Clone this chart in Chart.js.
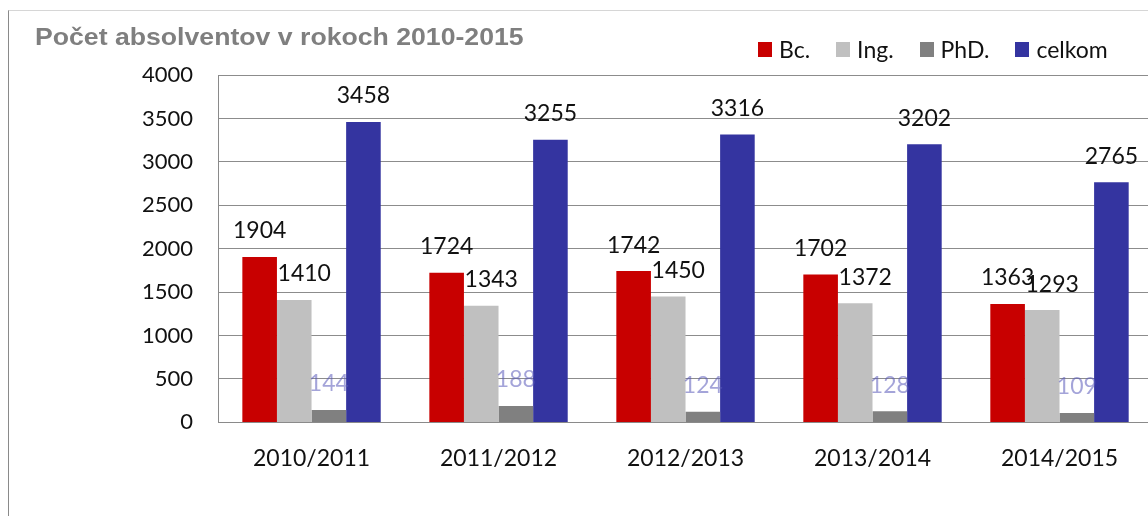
<!DOCTYPE html>
<html>
<head>
<meta charset="utf-8">
<script src="https://cdn.jsdelivr.net/npm/chart.js@4/dist/chart.umd.min.js"></script>
<style>
  html, body { margin:0; padding:0; width:1148px; height:516px; overflow:hidden; background:#fff; }
  #frame { position:absolute; left:8px; top:10px; width:1200px; height:520px;
           border-top:1px solid #d6d6d6; border-left:1px solid #8a8a8a; }
  #wrap { position:absolute; left:0; top:0; width:1160px; height:516px; }
  #title { position:absolute; left:35px; top:24px; font-family:"Liberation Sans", Arial, sans-serif;
           font-weight:bold; font-size:24px; color:#7f7f7f; white-space:nowrap; line-height:26px;
           transform-origin:0 0; transform:scaleX(1.11); }
  #legend { position:absolute; left:758px; top:36px; display:flex; align-items:center;
            font-family:Lato, "Open Sans", sans-serif; font-size:23px; color:#111; line-height:26px; }
  #legend .it { display:flex; align-items:center; margin-right:26px; white-space:nowrap; }
  #legend .bx { width:14px; height:15px; margin-right:7px; }
</style>
</head>
<body>
<div id="frame"></div>
<div id="wrap"><canvas id="c"></canvas></div>
<div id="title">Počet absolventov v rokoch 2010-2015</div>
<div id="legend"></div>
<script>
const categories = ["2010/2011", "2011/2012", "2012/2013", "2013/2014", "2014/2015"];
const bc     = [1904, 1724, 1742, 1702, 1363];
const ing    = [1410, 1343, 1450, 1372, 1293];
const phd    = [144, 188, 124, 128, 109];
const celkom = [3458, 3255, 3316, 3202, 2765];
const seriesNames = ["Bc.", "Ing.", "PhD.", "celkom"];
const yTicks = [0, 500, 1000, 1500, 2000, 2500, 3000, 3500, 4000];

const colors = ["#c80000", "#c0c0c0", "#808080", "#3434a0"];
const labelColors = ["#111", "#111", "rgba(90,90,185,0.55)", "#111"];
const labelShiftX = [0, 10, 0, 0];
const FONT = 'Lato, "Open Sans", sans-serif';

// HTML legend
const lg = document.getElementById('legend');
seriesNames.forEach((n, i) => {
  const it = document.createElement('div'); it.className = 'it';
  const b = document.createElement('div'); b.className = 'bx'; b.style.background = colors[i];
  const t = document.createElement('span'); t.textContent = n;
  it.appendChild(b); it.appendChild(t); lg.appendChild(it);
});

const valueLabels = {
  id: 'valueLabels',
  afterDatasetsDraw(chart) {
    const ctx = chart.ctx;
    ctx.save();
    ctx.font = '23px ' + FONT;
    ctx.textAlign = 'center';
    ctx.textBaseline = 'middle';
    chart.data.datasets.forEach((ds, di) => {
      const meta = chart.getDatasetMeta(di);
      meta.data.forEach((bar, i) => {
        ctx.fillStyle = labelColors[di];
        ctx.fillText(String(ds.data[i]), bar.x + labelShiftX[di], bar.y - 26);
      });
    });
    ctx.restore();
  }
};

const datasets = [bc, ing, phd, celkom].map((d, i) => ({
  label: seriesNames[i],
  data: d,
  backgroundColor: colors[i],
  borderWidth: 0,
  categoryPercentage: 0.74,
  barPercentage: 1.0
}));

new Chart(document.getElementById('c'), {
  type: 'bar',
  data: { labels: categories, datasets },
  options: {
    responsive: true,
    maintainAspectRatio: false,
    animation: false,
    layout: { padding: { top: 75, left: 117, right: 7, bottom: 22 } },
    plugins: { legend: { display: false }, title: { display: false }, tooltip: { enabled: false } },
    scales: {
      x: {
        grid: { display: false, drawTicks: false },
        border: { display: true, color: '#8a8a8a' },
        ticks: { color: '#111', font: { family: FONT, size: 23 }, padding: 22, maxRotation: 0 }
      },
      y: {
        min: 0, max: 4000,
        afterBuildTicks: (s) => { s.ticks = yTicks.map(v => ({ value: v })); },
        grid: { color: '#8c8c8c', lineWidth: 1, drawTicks: false },
        border: { display: true, color: '#8a8a8a' },
        ticks: { color: '#111', font: { family: FONT, size: 22 }, padding: 25,
                 callback: (v) => String(v) }
      }
    }
  },
  plugins: [valueLabels]
});
</script>
</body>
</html>
